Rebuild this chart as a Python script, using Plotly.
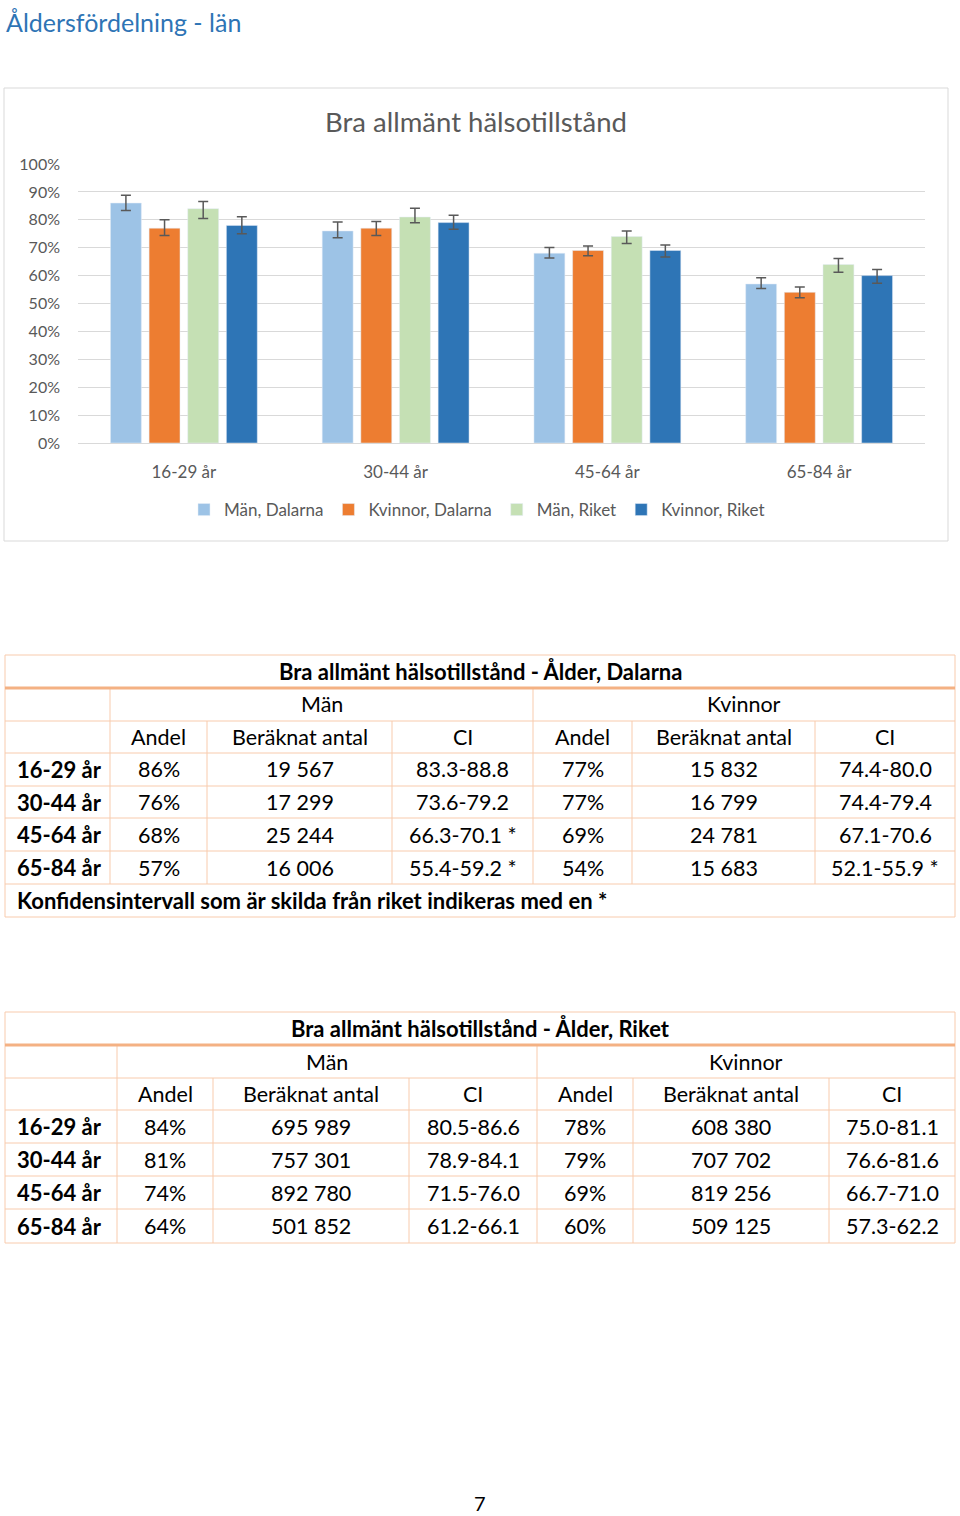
import plotly.graph_objects as go

W, H = 960, 1516

# ---------------- data ----------------
age_groups = ["16-29 år", "30-44 år", "45-64 år", "65-84 år"]
series_names = ["Män, Dalarna", "Kvinnor, Dalarna", "Män, Riket", "Kvinnor, Riket"]

# Dalarna
dal_man_andel = [86, 76, 68, 57]
dal_man_antal = [19567, 17299, 25244, 16006]
dal_man_ci_low = [83.3, 73.6, 66.3, 55.4]
dal_man_ci_high = [88.8, 79.2, 70.1, 59.2]
dal_man_ci_star = [False, False, True, True]
dal_kv_andel = [77, 77, 69, 54]
dal_kv_antal = [15832, 16799, 24781, 15683]
dal_kv_ci_low = [74.4, 74.4, 67.1, 52.1]
dal_kv_ci_high = [80.0, 79.4, 70.6, 55.9]
dal_kv_ci_star = [False, False, False, True]

# Riket
rik_man_andel = [84, 81, 74, 64]
rik_man_antal = [695989, 757301, 892780, 501852]
rik_man_ci_low = [80.5, 78.9, 71.5, 61.2]
rik_man_ci_high = [86.6, 84.1, 76.0, 66.1]
rik_kv_andel = [78, 79, 69, 60]
rik_kv_antal = [608380, 707702, 819256, 509125]
rik_kv_ci_low = [75.0, 76.6, 66.7, 57.3]
rik_kv_ci_high = [81.1, 81.6, 71.0, 62.2]

page_title = "Åldersfördelning - län"
chart_title = "Bra allmänt hälsotillstånd"
table1_title = "Bra allmänt hälsotillstånd - Ålder, Dalarna"
table2_title = "Bra allmänt hälsotillstånd - Ålder, Riket"
group_labels = ["Män", "Kvinnor"]
col_headers = ["Andel", "Beräknat antal", "CI"]
footnote = "Konfidensintervall som är skilda från riket indikeras med en *"
page_number = "7"

# ---------------- styling ----------------
FONT = "Lato"
GRAY = "#595959"
colors = ["#9DC3E6", "#ED7D31", "#C5E0B4", "#2E75B6"]
TBL_LINE = "#F8CBAD"
TBL_THICK = "#F4B183"


def X(px):
    return px / W


def Y(py):
    return 1 - py / H


fig = go.Figure()

series_vals = [
    (dal_man_andel, dal_man_ci_low, dal_man_ci_high),
    (dal_kv_andel, dal_kv_ci_low, dal_kv_ci_high),
    (rik_man_andel, rik_man_ci_low, rik_man_ci_high),
    (rik_kv_andel, rik_kv_ci_low, rik_kv_ci_high),
]
for name, col, (vals, lo, hi) in zip(series_names, colors, series_vals):
    fig.add_trace(go.Bar(
        x=age_groups, y=vals, name=name, marker_color=col,
        error_y=dict(type="data", symmetric=False,
                     array=[h - v for h, v in zip(hi, vals)],
                     arrayminus=[v - l for v, l in zip(vals, lo)],
                     color=GRAY, thickness=1.5, width=5),
    ))

fig.update_layout(
    width=W, height=H,
    margin=dict(l=0, r=0, t=0, b=0, autoexpand=False),
    paper_bgcolor="white", plot_bgcolor="white",
    font=dict(family=FONT, color=GRAY),
    barmode="group", bargap=0.27, bargroupgap=0.2,
    showlegend=True,
    legend=dict(orientation="h", x=X(477), xanchor="center", y=Y(510), yanchor="middle",
                font=dict(size=17, color=GRAY), traceorder="normal", itemwidth=30),
    title=dict(text=chart_title, x=X(476), xanchor="center", y=Y(122), yanchor="middle",
               font=dict(size=27.5, color=GRAY, family=FONT)),
    xaxis=dict(domain=[X(78), X(925)], showgrid=False, showline=True, linecolor="#D9D9D9",
               tickfont=dict(size=17, color=GRAY), ticks="", ticklabelstandoff=14),
    yaxis=dict(domain=[Y(443), Y(164)], range=[0, 100], dtick=10, ticksuffix="%",
               gridcolor="#D9D9D9", zeroline=False, showline=False,
               tickfont=dict(size=16, color=GRAY), ticklabelstandoff=17),
)

shapes = []
annotations = []

# page title
annotations.append(dict(text=page_title, x=X(4), y=Y(22), xref="paper", yref="paper",
                        xanchor="left", yanchor="middle", showarrow=False,
                        font=dict(size=25, color="#2E74B5", family=FONT)))
# chart border
shapes.append(dict(type="rect", xref="paper", yref="paper", x0=X(4), x1=X(948), y0=Y(88), y1=Y(541),
                   line=dict(color="#D9D9D9", width=1), fillcolor="rgba(0,0,0,0)", layer="below"))


def fmt_num(n):
    return f"{n:,}".replace(",", " ")


def fmt_ci(lo, hi, star=False):
    s = f"{lo:.1f}-{hi:.1f}"
    return s + " *" if star else s


def line(x0, y0, x1, y1, color=TBL_LINE, width=1):
    shapes.append(dict(type="line", xref="paper", yref="paper", x0=X(x0), y0=Y(y0), x1=X(x1), y1=Y(y1),
                       line=dict(color=color, width=width)))


def text(t, x, y, anchor="center", bold=False, size=None):
    if size is None:
        size = 22 if bold else 21.5
    annotations.append(dict(text=f"<b>{t}</b>" if bold else t, x=X(x), y=Y(y), xref="paper", yref="paper",
                            xanchor=anchor, yanchor="middle", showarrow=False,
                            font=dict(size=size, color="#000000", family=FONT)))


def draw_table(cols, rows, title, body, foot=None):
    left, right = cols[0], cols[-1]
    top, bottom = rows[0], rows[-1]
    for r in rows:
        line(left, r, right, r)
    line(left, top, left, bottom)
    line(right, top, right, bottom)
    line(cols[1], rows[1], cols[1], rows[2])
    line(cols[4], rows[1], cols[4], rows[2])
    body_bottom = rows[-2] if foot else rows[-1]
    for c in cols[1:-1]:
        line(c, rows[2], c, body_bottom)
    line(left, rows[1], right, rows[1], color=TBL_THICK, width=3)
    mid = lambda i: (rows[i] + rows[i + 1]) / 2
    text(title, (left + right) / 2, mid(0), bold=True)
    text(group_labels[0], (cols[1] + cols[4]) / 2, mid(1))
    text(group_labels[1], (cols[4] + cols[7]) / 2, mid(1))
    for k in range(6):
        text(col_headers[k % 3], (cols[k + 1] + cols[k + 2]) / 2, mid(2))
    for i, rowvals in enumerate(body):
        ri = 3 + i
        text(age_groups[i], left + 10, mid(ri), anchor="left", bold=True)
        for k, v in enumerate(rowvals):
            text(v, (cols[k + 1] + cols[k + 2]) / 2, mid(ri))
    if foot:
        text(foot, left + 10, mid(len(rows) - 2), anchor="left", bold=True)


body1 = []
for i in range(4):
    body1.append([f"{dal_man_andel[i]}%", fmt_num(dal_man_antal[i]),
                  fmt_ci(dal_man_ci_low[i], dal_man_ci_high[i], dal_man_ci_star[i]),
                  f"{dal_kv_andel[i]}%", fmt_num(dal_kv_antal[i]),
                  fmt_ci(dal_kv_ci_low[i], dal_kv_ci_high[i], dal_kv_ci_star[i])])
body2 = []
for i in range(4):
    body2.append([f"{rik_man_andel[i]}%", fmt_num(rik_man_antal[i]),
                  fmt_ci(rik_man_ci_low[i], rik_man_ci_high[i]),
                  f"{rik_kv_andel[i]}%", fmt_num(rik_kv_antal[i]),
                  fmt_ci(rik_kv_ci_low[i], rik_kv_ci_high[i])])

draw_table([5, 110, 207, 392, 533, 632, 815, 955],
           [655, 688, 721, 753, 786, 818, 851, 884, 917],
           table1_title, body1, foot=footnote)
draw_table([5, 117, 213, 409, 537, 633, 829, 955],
           [1012, 1045, 1078, 1110, 1143, 1176, 1209, 1243],
           table2_title, body2)

text(page_number, 480, 1503, size=20)

fig.update_layout(shapes=shapes, annotations=annotations)
fig.write_html("out.html", config={"displayModeBar": False},
               post_script="document.body.style.margin='0';document.body.style.padding='0';"
                           "document.documentElement.style.overflow='hidden';")
